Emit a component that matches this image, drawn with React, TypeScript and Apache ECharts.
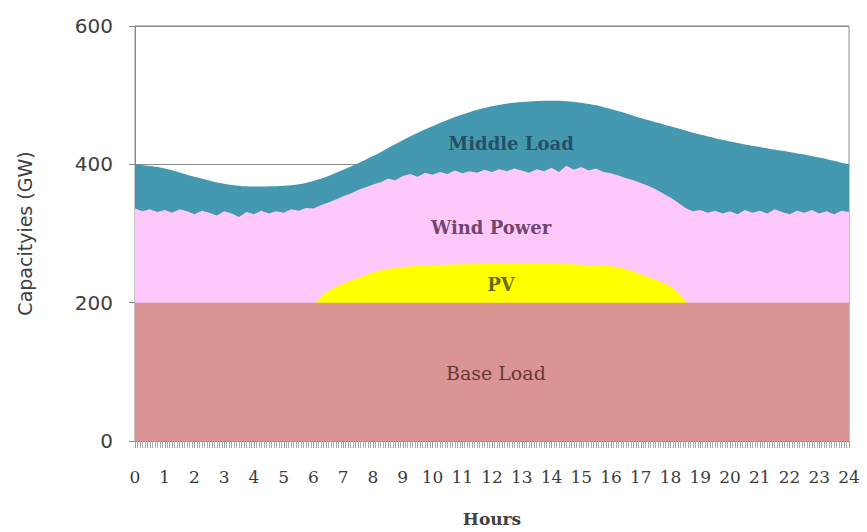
import React, { useEffect, useRef } from "react";
import * as echarts from "echarts";

// Middle load (total demand) upper envelope, hourly (GW)
const loadHours = [0, 1, 2, 3, 4, 5, 6, 7, 8, 9, 10, 11, 12, 13, 14, 15, 16, 17, 18, 19, 20, 21, 22, 23, 24];
const middleLoadTop = [400, 394, 382, 372, 368, 369, 376, 392, 412, 435, 455, 472, 484, 490, 492, 489, 480, 467, 455, 443, 433, 425, 418, 410, 400];

// Wind power upper envelope, every 15 minutes (GW)
const windStep = 0.25;
const windTop = [
  336, 332, 335, 331,
  334, 330, 335, 332,
  328, 333, 330, 326,
  332, 329, 324, 331,
  328, 333, 329, 332,
  330, 335, 333, 337,
  336, 341, 345, 349,
  354, 358, 363, 367,
  371, 374, 379, 377,
  383, 386, 382, 388,
  385, 389, 386, 391,
  387, 390, 388, 392,
  389, 393, 390, 394,
  391, 388, 393, 390,
  395, 389, 398, 392,
  396, 391, 394, 389,
  387, 384, 380, 377,
  373, 369, 364, 358,
  352, 345, 337, 332,
  334, 330, 333, 329,
  332, 328, 334, 330,
  333, 329, 335, 331,
  328, 333, 330, 334,
  329, 332, 328, 333,
  331,
];

// PV output on top of base load (GW)
const pvHours = [6.1, 6.3, 6.6, 7.1, 7.6, 8.2, 9.1, 10.5, 12, 13.5, 15, 16.3, 17.2, 17.8, 18.2, 18.55];
const pvOutput = [0, 10, 19, 29, 37, 46, 52, 55, 56, 56, 55, 51, 38, 28, 17, 0];

// Base load (GW)
const baseHours = [0, 24];
const baseLoad = [200, 200];

// In-chart labels
const labelNames = ["Middle Load", "Wind Power", "PV", "Base Load"];
const labelHours = [12.64, 11.97, 12.3, 12.13];
const labelValues = [430, 308, 226, 99];
const labelColors = ["#1d3b4f", "#4a2146", "#3e3e00", "#4a1c1c"];

const yTicks = [0, 200, 400, 600];

export default function App() {
  const ref = useRef<HTMLDivElement>(null);
  useEffect(() => {
    if (!ref.current) return;
    const chart = echarts.init(ref.current, undefined, { renderer: "svg" });
    const pvTop = pvOutput.map((v, i) => [pvHours[i], baseLoad[0] + v]);
    chart.setOption({
      animation: false,
      backgroundColor: "#ffffff",
      grid: {
        left: 135,
        right: 18,
        top: 26,
        bottom: 89,
        show: true,
        borderColor: "#8a8a8a",
        borderWidth: 1,
        backgroundColor: "transparent",
      },
      xAxis: {
        type: "value",
        min: 0,
        max: 24,
        interval: 1,
        name: "Hours",
        nameLocation: "middle",
        nameGap: 69,
        nameTextStyle: { fontFamily: "DejaVu Serif", fontSize: 17, fontWeight: "bold", color: "#404040" },
        axisLine: { show: true, lineStyle: { color: "#8a8a8a", width: 1 } },
        axisTick: { show: true, length: 7, lineStyle: { color: "#9a9a9a" } },
        minorTick: { show: true, splitNumber: 12, length: 7, lineStyle: { color: "#aaaaaa" } },
        splitLine: { show: false },
        axisLabel: {
          margin: 27,
          fontFamily: "DejaVu Serif",
          fontSize: 17,
          color: "#3c3c3c",
        },
      },
      yAxis: {
        type: "value",
        min: 0,
        max: 600,
        interval: 200,
        name: "Capacityies (GW)",
        nameLocation: "middle",
        nameGap: 101,
        nameTextStyle: { fontFamily: "DejaVu Sans", fontSize: 19, color: "#404040" },
        axisLine: { show: true, lineStyle: { color: "#8a8a8a", width: 1 } },
        axisTick: { show: true, length: 6, lineStyle: { color: "#8a8a8a" } },
        splitLine: { show: true, lineStyle: { color: "#8a8a8a", width: 1 } },
        axisLabel: {
          margin: 22,
          fontFamily: "DejaVu Sans",
          fontSize: 20,
          color: "#404040",
          formatter: (v: number) => (yTicks.includes(v) ? String(v) : ""),
        },
      },
      series: [
        {
          name: "Middle Load",
          type: "line",
          z: 2,
          smooth: 0.4,
          showSymbol: false,
          symbol: "none",
          data: middleLoadTop.map((v, i) => [loadHours[i], v]),
          lineStyle: { width: 0 },
          areaStyle: { color: "#4499b1", opacity: 1 },
        },
        {
          name: "Wind Power",
          type: "line",
          z: 3,
          showSymbol: false,
          symbol: "none",
          data: windTop.map((v, i) => [i * windStep, v]),
          lineStyle: { width: 0 },
          areaStyle: { color: "#ffc8fb", opacity: 1 },
        },
        {
          name: "PV",
          type: "line",
          z: 4,
          smooth: 0.35,
          showSymbol: false,
          symbol: "none",
          data: pvTop,
          lineStyle: { width: 0 },
          areaStyle: { color: "#ffff00", opacity: 1 },
        },
        {
          name: "Base Load",
          type: "line",
          z: 5,
          showSymbol: false,
          symbol: "none",
          data: baseLoad.map((v, i) => [baseHours[i], v]),
          lineStyle: { width: 0 },
          areaStyle: { color: "#d99493", opacity: 1 },
        },
        {
          name: "labels",
          type: "scatter",
          z: 10,
          symbolSize: 1,
          itemStyle: { color: "rgba(0,0,0,0)" },
          silent: true,
          data: labelNames.map((n, i) => ({
            value: [labelHours[i], labelValues[i]],
            label: {
              show: true,
              position: "inside",
              formatter: n,
              fontFamily: "DejaVu Serif",
              fontSize: i === 3 ? 19 : 18,
              fontWeight: i === 3 ? "normal" : "bold",
              color: labelColors[i],
            },
          })),
        },
      ],
    });
    return () => chart.dispose();
  }, []);
  return (
    <div
      ref={ref}
      style={{ position: "fixed", left: 0, top: 0, width: 867, height: 532 }}
    />
  );
}
